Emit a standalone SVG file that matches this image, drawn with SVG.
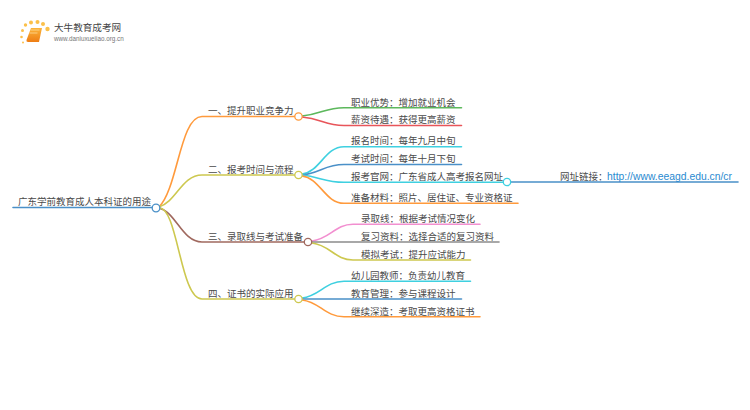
<svg xmlns="http://www.w3.org/2000/svg" width="750" height="410" viewBox="0 0 750 410">
<defs>
<linearGradient id="bk" x1="0" y1="0" x2="0" y2="1"><stop offset="0" stop-color="#fbb43a"/><stop offset="1" stop-color="#ee7d14"/></linearGradient>
<linearGradient id="fade" x1="0" y1="0" x2="1" y2="0"><stop offset="0" stop-color="#ccc" stop-opacity=".2"/><stop offset=".5" stop-color="#ccc"/><stop offset="1" stop-color="#ccc" stop-opacity="0"/></linearGradient>
</defs>
<style>
text{font-family:"Noto Sans CJK SC","Liberation Sans",sans-serif;font-size:9.5px;fill:#4a4a4a}
.url{font-family:"Liberation Sans","Noto Sans CJK SC",sans-serif;fill:#2a8ad0}
.c{fill:none;stroke-width:1.6;stroke-linecap:round}
.n{fill:#fff;stroke-width:1.3}
.d{fill:#fbc04a}
</style>
<rect width="750" height="410" fill="#fff"/>
<g id="logo">
<circle class="d" cx="22.500" cy="30.500" r="1.500"/><circle class="d" cx="25.500" cy="25" r="1.700"/><circle class="d" cx="31" cy="22.500" r="2"/><circle class="d" cx="37.500" cy="22" r="2"/><circle class="d" cx="43" cy="24" r="2"/><circle class="d" cx="47.500" cy="29" r="2.200"/><circle class="d" cx="21.500" cy="37" r="1.300"/><circle class="d" cx="23" cy="42.500" r="1"/>
<path d="M31 28h11l-3 14h-11q-2 0-1.500-2z" fill="url(#bk)"/><path d="M30.500 30h9M29.500 33h8" stroke="#fde3a8" stroke-width=".7" fill="none"/>
<path d="M54 33.500h80" stroke="url(#fade)" stroke-width=".7"/>
<text x="54" y="31" style="font-size:9.600px;fill:#444">大牛教育成考网</text>
<text x="54" y="41" style="font-family:'Liberation Sans',sans-serif;font-size:6.300px;fill:#777">www.daniuxueiiao.org.cn</text>
</g>
<g id="connectors">
<path class="c" stroke="#4a90c8" stroke-width="2" d="M13 207.500H152"/>
<path class="c" stroke="#ff9a3c" d="M159 207C178 188 180 116.500 202 116.500H295"/>
<path class="c" stroke="#cdc84f" d="M159 207C176 202 182 175 202 175H295"/>
<path class="c" stroke="#a0695f" d="M159 208C176 212 182 242 202 242H304"/>
<path class="c" stroke="#cdc84f" d="M159 208C178 207 180 299 202 299H295"/>
<path class="c" stroke="#5cb85c" d="M302 116C322 114 325 107.700 344 107.700H461.500"/>
<path class="c" stroke="#e8555a" d="M302 117C322 119 325 125.500 344 125.500H461.500"/>
<path class="c" stroke="#3fd0e0" d="M302 174C320 172 325 146.700 344 146.700H461.500"/>
<path class="c" stroke="#4a90c8" d="M302 175C320 173 325 164.500 344 164.500H461.500"/>
<path class="c" stroke="#3fd0e0" d="M302 175C320 177 325 182.300 344 182.300H503.500"/>
<path class="c" stroke="#ff9a3c" d="M302 176C320 178 325 203.300 344 203.300H518"/>
<path class="c" stroke="#4a90c8" d="M511 182H738"/>
<path class="c" stroke="#f28fd0" d="M312 241C330 239 335 224.300 353 224.300H480"/>
<path class="c" stroke="#8c8c8c" d="M312 242H499"/>
<path class="c" stroke="#cdc84f" d="M312 243C330 245 335 260 353 260H470.500"/>
<path class="c" stroke="#3fd0e0" d="M302 298C320 296 325 281.300 344 281.300H470.500"/>
<path class="c" stroke="#4a90c8" stroke-width="2" d="M302 299H461.500"/>
<path class="c" stroke="#ff9a3c" d="M302 300C320 302 325 316.700 344 316.700H480"/>
</g>
<g id="root"><circle class="n" cx="156" cy="208" r="3.800" stroke="#4a90c8"/><text x="18" y="205">广东学前教育成人本科证的用途</text></g>
<g id="b1"><circle class="n" cx="298.500" cy="116.500" r="3.700" stroke="#ff9a3c"/><text x="208" y="114">一、提升职业竞争力</text></g>
<g id="b2"><circle class="n" cx="298.500" cy="175" r="3.700" stroke="#cdc84f"/><text x="208" y="173">二、报考时间与流程</text></g>
<g id="b3"><circle class="n" cx="308" cy="242" r="3.700" stroke="#a0695f"/><text x="208" y="240">三、录取线与考试准备</text></g>
<g id="b4"><circle class="n" cx="298.500" cy="299" r="3.700" stroke="#cdc84f"/><text x="208" y="297">四、证书的实际应用</text></g>
<g id="l11"><text x="351" y="105.500">职业优势：增加就业机会</text></g>
<g id="l12"><text x="351" y="123">薪资待遇：获得更高薪资</text></g>
<g id="l21"><text x="351" y="144">报名时间：每年九月中旬</text></g>
<g id="l22"><text x="351" y="162">考试时间：每年十月下旬</text></g>
<g id="l23"><circle class="n" cx="507" cy="182" r="3.700" stroke="#3fd0e0"/><text x="351" y="180">报考官网：广东省成人高考报名网址</text></g>
<g id="l24"><text x="351" y="201">准备材料：照片、居住证、专业资格证</text></g>
<g id="l231"><text x="560" y="179.500">网址链接：</text><text class="url" x="607" y="179.500" textLength="125" lengthAdjust="spacingAndGlyphs" style="font-size:11.500px">http://www.eeagd.edu.cn/cr</text></g>
<g id="l31"><text x="361" y="222">录取线：根据考试情况变化</text></g>
<g id="l32"><text x="361" y="239.500">复习资料：选择合适的复习资料</text></g>
<g id="l33"><text x="361" y="257.500">模拟考试：提升应试能力</text></g>
<g id="l41"><text x="351" y="279">幼儿园教师：负责幼儿教育</text></g>
<g id="l42"><text x="351" y="296.500">教育管理：参与课程设计</text></g>
<g id="l43"><text x="351" y="314.500">继续深造：考取更高资格证书</text></g>
</svg>
